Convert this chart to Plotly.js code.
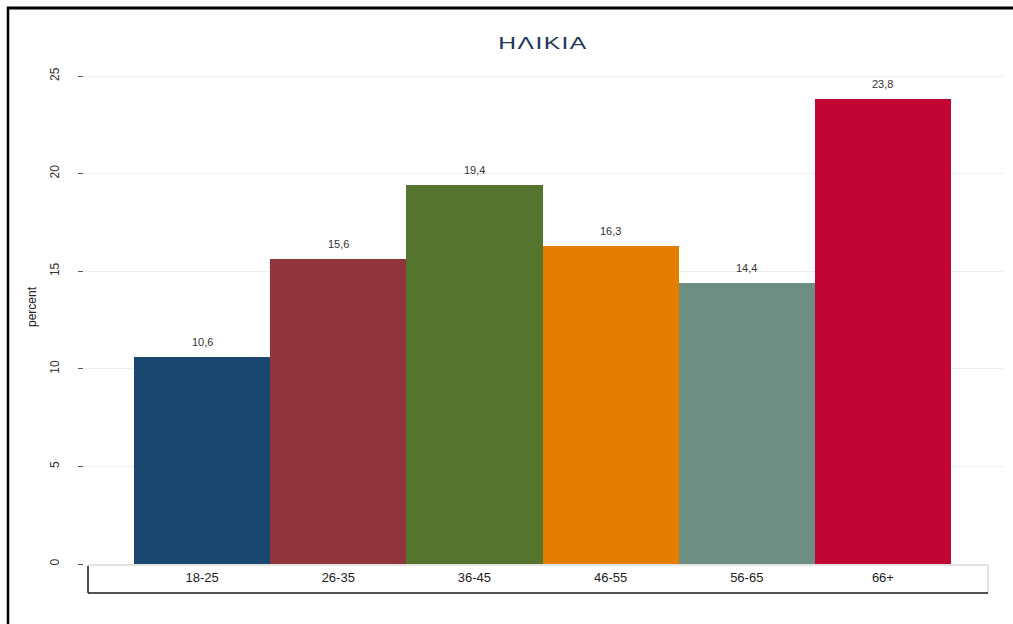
<!DOCTYPE html>
<html>
<head>
<meta charset="utf-8">
<script src="https://cdn.plot.ly/plotly-3.0.1.min.js"></script>
<style>
html,body{margin:0;padding:0;background:#fff;}
#chart{width:1013px;height:624px;}
.gtitle{letter-spacing:1px;transform-box:fill-box;transform-origin:center;transform:scaleX(1.45);}
</style>
</head>
<body>
<div id="chart"></div>
<script>
const categories = ["18-25", "26-35", "36-45", "46-55", "56-65", "66+"];
const percentValues = [10.6, 15.6, 19.4, 16.3, 14.4, 23.8];
const barColors = ["#1a476f", "#90353b", "#55752f", "#e37e00", "#6e8e84", "#c10534"];
const yTicks = [0, 5, 10, 15, 20, 25];
const titleText = "ΗΛΙΚΙΑ";
const yTitle = "percent";

const labels = percentValues.map(v => v.toFixed(1).replace('.', ','));

const W = 1013, H = 624;
const mL = 84, mR = 10, mT = 50, mB = 60;
const pw = W - mL - mR, ph = H - mT - mB;
const px = p => (p - mL) / pw;
const py = p => (H - mB - p) / ph;

const trace = {
  type: 'bar',
  x: categories.map((c, i) => i),
  y: percentValues,
  marker: {color: barColors, line: {width: 0}},
  width: 1,
  hoverinfo: 'none'
};

const annotations = percentValues.map((v, i) => ({
  x: i, y: v, xref: 'x', yref: 'y',
  text: labels[i], showarrow: false,
  yanchor: 'middle', yshift: 15,
  font: {family: 'Liberation Sans, Arial, sans-serif', size: 11, color: '#333'}
}));

const layout = {
  width: W, height: H,
  margin: {l: mL, r: mR, t: mT, b: mB, pad: 0},
  paper_bgcolor: '#fff',
  plot_bgcolor: '#fff',
  showlegend: false,
  bargap: 0,
  title: {
    text: titleText,
    font: {family: 'Liberation Sans, Arial, sans-serif', size: 17, color: '#22365e'},
    x: px(543), xanchor: 'center',
    y: 1 - 43 / H, yanchor: 'middle', xref: 'paper', yref: 'container'
  },
  xaxis: {
    range: [-0.5 - 50 / 136.17, 5.5 + 52 / 136.17],
    tickmode: 'array',
    tickvals: categories.map((c, i) => i),
    ticktext: categories,
    ticks: '',
    showgrid: false,
    zeroline: false,
    showline: false,
    tickfont: {family: 'Liberation Sans, Arial, sans-serif', size: 13, color: '#222'},
    ticklabelstandoff: 4
  },
  yaxis: {
    range: [0, ph / 19.52],
    tickmode: 'array',
    tickvals: yTicks,
    ticktext: yTicks.map(String),
    tickangle: -90,
    ticks: 'outside',
    ticklen: 5,
    tickcolor: '#555',
    tickwidth: 1,
    showgrid: true,
    gridcolor: '#eceff0',
    gridwidth: 1,
    zeroline: false,
    showline: false,
    ticklabelstandoff: 14,
    tickfont: {family: 'Liberation Sans, Arial, sans-serif', size: 12, color: '#333'},
    title: {text: yTitle, standoff: 9, font: {family: 'Liberation Sans, Arial, sans-serif', size: 12, color: '#222'}}
  },
  annotations: annotations,
  shapes: [
    {type: 'rect', xref: 'paper', yref: 'paper', x0: px(88), x1: px(988), y0: py(593), y1: py(565),
     line: {color: '#c8c8c8', width: 1}, fillcolor: 'rgba(0,0,0,0)', layer: 'above'},
    {type: 'line', xref: 'paper', yref: 'paper', x0: px(88), x1: px(88), y0: py(593), y1: py(566),
     line: {color: '#222', width: 1.5}},
    {type: 'line', xref: 'paper', yref: 'paper', x0: px(88), x1: px(988), y0: py(593), y1: py(593),
     line: {color: '#222', width: 1.5}},
    {type: 'line', xref: 'paper', yref: 'paper', x0: px(8), x1: px(8), y0: py(640), y1: py(7),
     line: {color: '#000', width: 2.5}},
    {type: 'line', xref: 'paper', yref: 'paper', x0: px(7), x1: px(1030), y0: py(8), y1: py(8),
     line: {color: '#000', width: 3}}
  ]
};

Plotly.newPlot('chart', [trace], layout, {displayModeBar: false, staticPlot: true});
</script>
</body>
</html>
